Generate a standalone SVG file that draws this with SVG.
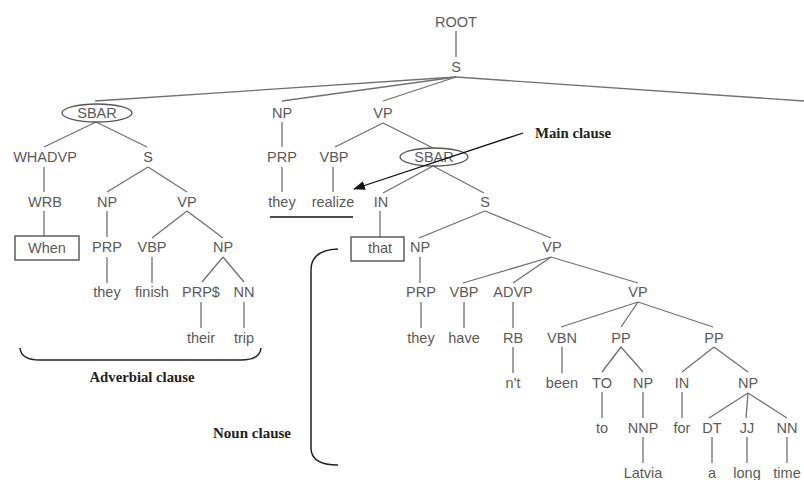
<svg xmlns="http://www.w3.org/2000/svg" width="804" height="480" viewBox="0 0 804 480">
<style>
.t{font-family:"Liberation Sans",Arial,sans-serif;font-size:14.5px;fill:#5a5a5a;text-anchor:middle}
#edges line{stroke:#707070;stroke-width:1.3}
.lbl{font-family:"Liberation Serif","Times New Roman",serif;font-size:14px;font-weight:bold;fill:#222;text-anchor:middle}
.box{fill:none;stroke:#444;stroke-width:1.3}
.ell{fill:none;stroke:#555;stroke-width:1.3}
.br{fill:none;stroke:#222;stroke-width:1.5}
</style>
<defs>
<marker id="ah" markerUnits="userSpaceOnUse" markerWidth="12" markerHeight="10" refX="11" refY="4.5" orient="auto">
<path d="M0,0 L12,4.5 L0,9 z" fill="#111"/>
</marker>
</defs>
<rect width="804" height="480" fill="#fff"/>
<g id="edges">
<line x1="456" y1="31" x2="456" y2="57"/>
<line x1="456" y1="77" x2="95" y2="101"/>
<line x1="456" y1="77" x2="282" y2="101"/>
<line x1="456" y1="77" x2="383" y2="101"/>
<line x1="456" y1="77" x2="804" y2="101"/>
<line x1="96" y1="122" x2="44" y2="147"/>
<line x1="96" y1="122" x2="147" y2="147"/>
<line x1="282" y1="122" x2="282" y2="147"/>
<line x1="383" y1="123" x2="335" y2="147"/>
<line x1="383" y1="123" x2="433" y2="148"/>
<line x1="44" y1="167" x2="44" y2="192"/>
<line x1="148" y1="167" x2="107" y2="192"/>
<line x1="148" y1="167" x2="187" y2="192"/>
<line x1="282" y1="167" x2="282" y2="192"/>
<line x1="333" y1="167" x2="333" y2="192"/>
<line x1="433" y1="166" x2="383" y2="193"/>
<line x1="433" y1="166" x2="484" y2="193"/>
<line x1="44" y1="211" x2="44" y2="236"/>
<line x1="107" y1="211" x2="107" y2="237"/>
<line x1="187" y1="211" x2="152" y2="238"/>
<line x1="187" y1="211" x2="223" y2="238"/>
<line x1="380" y1="211" x2="380" y2="237"/>
<line x1="485" y1="211" x2="419" y2="238"/>
<line x1="485" y1="211" x2="551" y2="238"/>
<line x1="107" y1="257" x2="107" y2="283"/>
<line x1="152" y1="257" x2="152" y2="283"/>
<line x1="223" y1="257" x2="202" y2="282"/>
<line x1="223" y1="257" x2="244" y2="282"/>
<line x1="420" y1="257" x2="420" y2="283"/>
<line x1="551" y1="257" x2="463" y2="283"/>
<line x1="551" y1="257" x2="513" y2="283"/>
<line x1="551" y1="257" x2="638" y2="283"/>
<line x1="201" y1="302" x2="201" y2="328"/>
<line x1="244" y1="302" x2="244" y2="328"/>
<line x1="421" y1="302" x2="421" y2="328"/>
<line x1="464" y1="302" x2="464" y2="328"/>
<line x1="513" y1="302" x2="513" y2="328"/>
<line x1="638" y1="302" x2="561" y2="327"/>
<line x1="638" y1="302" x2="621" y2="327"/>
<line x1="638" y1="302" x2="713" y2="327"/>
<line x1="513" y1="347" x2="513" y2="373"/>
<line x1="562" y1="347" x2="562" y2="373"/>
<line x1="621" y1="347" x2="602" y2="372"/>
<line x1="621" y1="347" x2="643" y2="372"/>
<line x1="714" y1="347" x2="682" y2="372"/>
<line x1="714" y1="347" x2="748" y2="372"/>
<line x1="602" y1="392" x2="602" y2="418"/>
<line x1="643" y1="392" x2="643" y2="418"/>
<line x1="682" y1="392" x2="682" y2="418"/>
<line x1="748" y1="393" x2="709" y2="418"/>
<line x1="748" y1="393" x2="746" y2="418"/>
<line x1="748" y1="393" x2="787" y2="418"/>
<line x1="643" y1="437" x2="643" y2="463"/>
<line x1="712" y1="437" x2="712" y2="463"/>
<line x1="747" y1="437" x2="747" y2="463"/>
<line x1="787" y1="437" x2="787" y2="463"/>
</g>
<g id="n_root"><text class="t" x="456" y="27">ROOT</text></g>
<g id="n_s"><text class="t" x="456" y="72">S</text></g>
<g id="n_sbar1"><ellipse class="ell" cx="97" cy="113" rx="35" ry="9"/><text class="t" x="97" y="118">SBAR</text></g>
<g id="n_np1"><text class="t" x="282" y="118">NP</text></g>
<g id="n_vp1"><text class="t" x="383" y="118">VP</text></g>
<g id="n_whadvp"><text class="t" x="45" y="162">WHADVP</text></g>
<g id="n_s2"><text class="t" x="148" y="162">S</text></g>
<g id="n_prp1"><text class="t" x="282" y="162">PRP</text></g>
<g id="n_vbp1"><text class="t" x="334" y="162">VBP</text></g>
<g id="n_sbar2"><ellipse class="ell" cx="434" cy="157" rx="34" ry="9"/><text class="t" x="434" y="162">SBAR</text></g>
<g id="n_wrb"><text class="t" x="45" y="207">WRB</text></g>
<g id="n_np2"><text class="t" x="107" y="207">NP</text></g>
<g id="n_vp2"><text class="t" x="187" y="207">VP</text></g>
<g id="n_they1"><text class="t" x="282" y="207">they</text></g>
<g id="n_realize"><text class="t" x="333" y="207">realize</text></g>
<g id="n_in1"><text class="t" x="381" y="207">IN</text></g>
<g id="n_s3"><text class="t" x="485" y="207">S</text></g>
<g id="n_when"><rect class="box" x="15" y="236" width="64" height="24"/><text class="t" x="47" y="253">When</text></g>
<g id="n_prp2"><text class="t" x="107" y="252">PRP</text></g>
<g id="n_vbp2"><text class="t" x="152" y="252">VBP</text></g>
<g id="n_np3"><text class="t" x="223" y="252">NP</text></g>
<g id="n_that"><rect class="box" x="351" y="237" width="53" height="24"/><text class="t" x="380" y="253">that</text></g>
<g id="n_np4"><text class="t" x="420" y="252">NP</text></g>
<g id="n_vp3"><text class="t" x="552" y="252">VP</text></g>
<g id="n_they2"><text class="t" x="107" y="297">they</text></g>
<g id="n_finish"><text class="t" x="152" y="297">finish</text></g>
<g id="n_prps"><text class="t" x="201" y="297">PRP$</text></g>
<g id="n_nn1"><text class="t" x="244" y="297">NN</text></g>
<g id="n_prp3"><text class="t" x="421" y="297">PRP</text></g>
<g id="n_vbp3"><text class="t" x="464" y="297">VBP</text></g>
<g id="n_advp"><text class="t" x="513" y="297">ADVP</text></g>
<g id="n_vp4"><text class="t" x="638" y="297">VP</text></g>
<g id="n_their"><text class="t" x="201" y="343">their</text></g>
<g id="n_trip"><text class="t" x="244" y="343">trip</text></g>
<g id="n_they3"><text class="t" x="421" y="343">they</text></g>
<g id="n_have"><text class="t" x="464" y="343">have</text></g>
<g id="n_rb"><text class="t" x="513" y="343">RB</text></g>
<g id="n_vbn"><text class="t" x="562" y="343">VBN</text></g>
<g id="n_pp1"><text class="t" x="621" y="343">PP</text></g>
<g id="n_pp2"><text class="t" x="714" y="343">PP</text></g>
<g id="n_nt"><text class="t" x="513" y="388">n't</text></g>
<g id="n_been"><text class="t" x="562" y="388">been</text></g>
<g id="n_to1"><text class="t" x="602" y="388">TO</text></g>
<g id="n_np5"><text class="t" x="643" y="388">NP</text></g>
<g id="n_in2"><text class="t" x="682" y="388">IN</text></g>
<g id="n_np6"><text class="t" x="748" y="388">NP</text></g>
<g id="n_to2"><text class="t" x="602" y="433">to</text></g>
<g id="n_nnp"><text class="t" x="643" y="433">NNP</text></g>
<g id="n_for"><text class="t" x="682" y="433">for</text></g>
<g id="n_dt"><text class="t" x="712" y="433">DT</text></g>
<g id="n_jj"><text class="t" x="747" y="433">JJ</text></g>
<g id="n_nn2"><text class="t" x="787" y="433">NN</text></g>
<g id="n_latvia"><text class="t" x="643" y="478">Latvia</text></g>
<g id="n_a"><text class="t" x="712" y="478">a</text></g>
<g id="n_long"><text class="t" x="747" y="478">long</text></g>
<g id="n_time"><text class="t" x="787" y="478">time</text></g>
<g id="ann_main">
<line x1="523" y1="133" x2="354" y2="189" stroke="#111" stroke-width="1.3" marker-end="url(#ah)"/>
<line x1="270" y1="217" x2="353" y2="217" stroke="#111" stroke-width="1.3"/>
<text class="lbl" x="573" y="138" textLength="76" lengthAdjust="spacingAndGlyphs">Main clause</text>
</g>
<g id="ann_adv">
<path class="br" d="M20,348 Q21,360 40,360 L241,360 Q260,360 261,348"/>
<text class="lbl" x="142" y="382" textLength="105" lengthAdjust="spacingAndGlyphs">Adverbial clause</text>
</g>
<g id="ann_noun">
<path class="br" d="M338,249 Q311,250 311,270 L311,448 Q311,465 338,465"/>
<text class="lbl" x="252" y="438" textLength="78" lengthAdjust="spacingAndGlyphs">Noun clause</text>
</g>
</svg>
